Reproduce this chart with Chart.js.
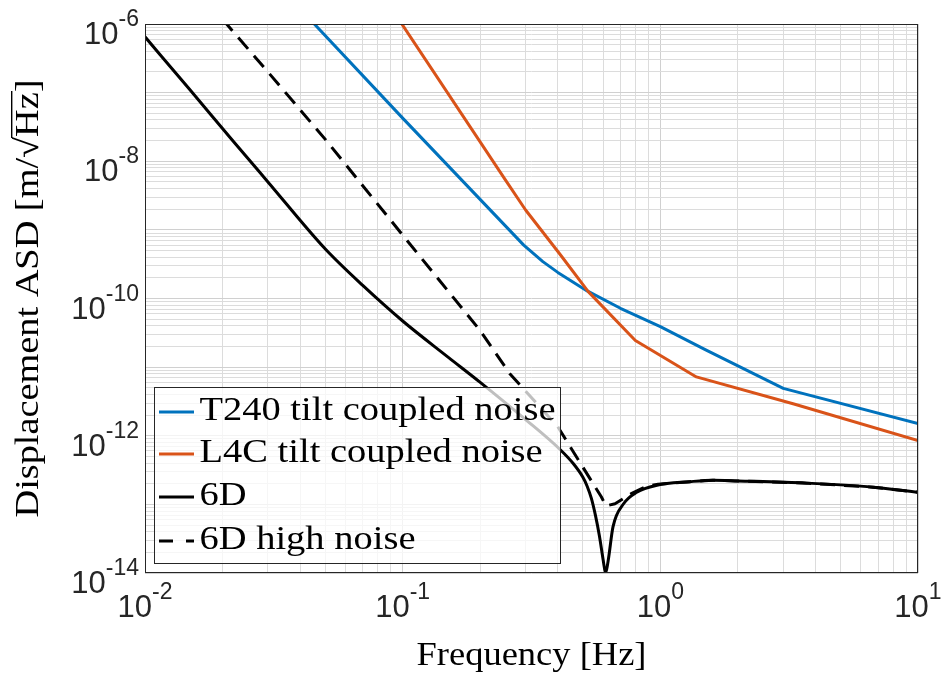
<!DOCTYPE html>
<html>
<head>
<meta charset="utf-8">
<script src="https://cdn.jsdelivr.net/npm/chart.js@4/dist/chart.umd.min.js"></script>
<style>
html,body{margin:0;padding:0;background:#fff;}
#wrap{width:946px;height:679px;position:relative;}
</style>
</head>
<body>
<div id="wrap"><canvas id="c"></canvas></div>
<script>
// ---- data (frequency in Hz, ASD in m/sqrt(Hz)) ----
const t240Freq = [0.04, 0.1, 0.295, 0.35, 0.40, 0.52, 0.70, 1.0, 1.5, 3.0, 10];
const t240Asd  = [1.66e-6, 4.25e-8, 6.0e-10, 3.45e-10, 2.4e-10, 1.29e-10, 7.2e-11, 3.9e-11, 1.78e-11, 4.9e-12, 1.5e-12];

const l4cFreq = [0.09, 0.25, 0.30, 0.41, 0.525, 0.80, 1.38, 3.3, 10];
const l4cAsd  = [1.74e-6, 5.4e-9, 1.95e-9, 4.3e-10, 1.26e-10, 2.45e-11, 7.2e-12, 2.9e-12, 8.5e-13];

const sixDFreq = [0.01, 0.015, 0.022, 0.03, 0.05, 0.07, 0.1, 0.15, 0.2, 0.3, 0.41, 0.46, 0.5, 0.52, 0.54, 0.56, 0.58, 0.6, 0.613, 0.628, 0.655, 0.72, 0.81, 0.97, 1.3, 1.6, 2.0, 3.7, 6.7, 10];
const sixDAsd  = [6.5e-7, 1.08e-7, 1.96e-8, 5.0e-9, 5.3e-10, 1.55e-10, 4.7e-11, 1.4e-11, 6.0e-12, 1.72e-12, 6.2e-13, 3.9e-13, 2.5e-13, 1.84e-13, 1.22e-13, 6.9e-14, 3.5e-14, 1.55e-14, 1.0e-14, 1.55e-14, 4.7e-14, 1.02e-13, 1.5e-13, 1.9e-13, 2.14e-13, 2.25e-13, 2.2e-13, 2.04e-13, 1.78e-13, 1.5e-13];

const sixDHighFreq = [0.02, 0.03, 0.05, 0.1, 0.2, 0.26, 0.4, 0.46, 0.59, 0.615, 0.667, 0.775, 0.873, 0.98, 1.3, 1.6, 2.0, 3.7, 6.7, 10];
const sixDHighAsd  = [1.17e-6, 2.0e-7, 2.1e-8, 8.4e-10, 3.4e-11, 8.1e-12, 1.35e-12, 5.8e-13, 1.29e-13, 9.5e-14, 1.02e-13, 1.45e-13, 1.8e-13, 1.97e-13, 2.14e-13, 2.25e-13, 2.2e-13, 2.04e-13, 1.78e-13, 1.5e-13];

const seriesNames = ['T240 tilt coupled noise', 'L4C tilt coupled noise', '6D', '6D high noise'];
const xTickExps = [-2, -1, 0, 1];
const yTickExps = [-14, -12, -10, -8, -6];
const xTitle = 'Frequency [Hz]';
const yTitleParts = ['Displacement ASD [m/', '\u221A', 'Hz', ']'];

// ---- helpers ----
function pts(fx, fy) { return fx.map((f, i) => ({ x: f, y: fy[i] })); }
function logTicks(e0, e1) {
  const out = [];
  for (let e = e0; e < e1; e++) for (let m = 1; m <= 9; m++) out.push(+(m + 'e' + e));
  out.push(+('1e' + e1));
  return out;
}
const xGridVals = logTicks(-2, 1);
const yGridVals = logTicks(-14, -6);
function isDecade(v) { const e = Math.log10(v); return Math.abs(e - Math.round(e)) < 1e-6; }
function gridColor(c) { return (c.tick && isDecade(c.tick.value)) ? '#d0d0d0' : '#dcdcdc'; }

const BLUE = '#0072BD', ORANGE = '#D95319', BLACK = '#000000';
const SERIF = '"Liberation Serif", "Times New Roman", serif';
const SANS = '"Liberation Sans", Arial, Helvetica, sans-serif';

function fitText(ctx, txt, x, y, k) {
  ctx.save(); ctx.translate(x, y); ctx.scale(k, 1); ctx.fillText(txt, 0, 0); ctx.restore();
}
function drawPow(ctx, exp, x, y, align) {
  // y: baseline of the "10"
  ctx.font = '31px ' + SANS;
  const wb = ctx.measureText('10').width;
  ctx.font = '23px ' + SANS;
  const es = String(exp);
  const we = ctx.measureText(es).width;
  const total = wb + we;
  let x0 = align === 'right' ? x - total : x - total / 2;
  ctx.textAlign = 'left'; ctx.textBaseline = 'alphabetic';
  ctx.fillStyle = '#262626';
  ctx.font = '31px ' + SANS; ctx.fillText('10', x0, y);
  ctx.font = '23px ' + SANS; ctx.fillText(es, x0 + wb, y - 18);
}

const overlay = {
  id: 'overlay',
  afterDatasetsDraw(chart) {
    const ctx = chart.ctx, a = chart.chartArea;
    // legend
    ctx.save();
    const lx = 154.5, ly = 387.5, lw = 406, lh = 176;
    ctx.fillStyle = 'rgba(255,255,255,0.75)';
    ctx.fillRect(lx, ly, lw, lh);
    ctx.strokeStyle = '#262626'; ctx.lineWidth = 1;
    ctx.strokeRect(lx, ly, lw, lh);
    const rows = [412, 454, 497, 541];
    const colors = [BLUE, ORANGE, BLACK, BLACK];
    ctx.font = '33px ' + SERIF;
    const k = 356 / ctx.measureText(seriesNames[0]).width;
    for (let i = 0; i < 4; i++) {
      ctx.beginPath();
      ctx.strokeStyle = colors[i]; ctx.lineWidth = 3;
      ctx.setLineDash(i === 3 ? [14, 13] : []);
      ctx.moveTo(159, rows[i]); ctx.lineTo(194, rows[i]); ctx.stroke();
      ctx.setLineDash([]);
      ctx.fillStyle = '#000'; ctx.textAlign = 'left'; ctx.textBaseline = 'alphabetic';
      fitText(ctx, seriesNames[i], 199.5, rows[i] + 8, k);
    }
    // axes box
    ctx.strokeStyle = '#262626'; ctx.lineWidth = 1;
    ctx.strokeRect(a.left + 0.5, a.top + 0.5, a.right - a.left - 1, a.bottom - a.top - 1);
    ctx.restore();
  },
  afterDraw(chart) {
    const ctx = chart.ctx, a = chart.chartArea;
    const xs = chart.scales.x, ys = chart.scales.y;
    ctx.save();
    yTickExps.forEach(e => drawPow(ctx, e, 139, ys.getPixelForValue(Math.pow(10, e)) + 20, 'right'));
    xTickExps.forEach(e => drawPow(ctx, e, xs.getPixelForValue(Math.pow(10, e)), 617, 'center'));
    // x title
    ctx.fillStyle = '#000'; ctx.font = '33px ' + SERIF; ctx.textAlign = 'left'; ctx.textBaseline = 'alphabetic';
    const wx = ctx.measureText(xTitle).width, kx = 230 / wx;
    const cx = (a.left + a.right) / 2;
    fitText(ctx, xTitle, cx - 115, 665, kx);
    // y title (rotated)
    const widths = yTitleParts.map(p => ctx.measureText(p).width);
    const W = widths.reduce((s, v) => s + v, 0);
    const ky = 438 / W;
    ctx.save();
    ctx.translate(38, (a.top + a.bottom) / 2);
    ctx.rotate(-Math.PI / 2);
    ctx.scale(ky, 1);
    let px = -W / 2;
    const sqAsc = ctx.measureText('\u221A').actualBoundingBoxAscent || 25;
    yTitleParts.forEach((p, i) => {
      ctx.fillText(p, px, 0);
      if (i === 2) {
        ctx.beginPath(); ctx.lineWidth = 1.4; ctx.strokeStyle = '#000';
        ctx.moveTo(px - 1, -sqAsc + 0.7); ctx.lineTo(px + widths[i] + 1, -sqAsc + 0.7); ctx.stroke();
      }
      px += widths[i];
    });
    ctx.restore();
    ctx.restore();
  }
};

function ds(label, fx, fy, color, order, opts) {
  return Object.assign({
    label, data: pts(fx, fy), borderColor: color, backgroundColor: color,
    borderWidth: 3, pointRadius: 0, pointHoverRadius: 0, fill: false,
    tension: 0, clip: 0, order, borderCapStyle: 'butt', borderJoinStyle: 'round'
  }, opts || {});
}

new Chart(document.getElementById('c'), {
  type: 'line',
  data: {
    datasets: [
      ds(seriesNames[0], t240Freq, t240Asd, BLUE, 4),
      ds(seriesNames[1], l4cFreq, l4cAsd, ORANGE, 3),
      ds(seriesNames[2], sixDFreq, sixDAsd, BLACK, 2, { cubicInterpolationMode: 'monotone' }),
      ds(seriesNames[3], sixDHighFreq, sixDHighAsd, BLACK, 1, { borderDash: [15, 9] })
    ]
  },
  options: {
    responsive: true, maintainAspectRatio: false, devicePixelRatio: 1, animation: false,
    layout: { padding: { top: 24, right: 28, left: 0, bottom: 0 } },
    plugins: { legend: { display: false }, tooltip: { enabled: false } },
    scales: {
      x: {
        type: 'logarithmic', min: 0.01, max: 10,
        afterBuildTicks: ax => { ax.ticks = xGridVals.map(v => ({ value: v })); },
        afterFit: s => { s.height = 106; },
        ticks: { display: false },
        grid: { color: gridColor, drawTicks: false, lineWidth: 1 },
        border: { display: false }
      },
      y: {
        type: 'logarithmic', min: 1e-14, max: 1e-6,
        afterBuildTicks: ax => { ax.ticks = yGridVals.map(v => ({ value: v })); },
        afterFit: s => { s.width = 145; },
        ticks: { display: false },
        grid: { color: gridColor, drawTicks: false, lineWidth: 1 },
        border: { display: false }
      }
    }
  },
  plugins: [overlay]
});
</script>
</body>
</html>
